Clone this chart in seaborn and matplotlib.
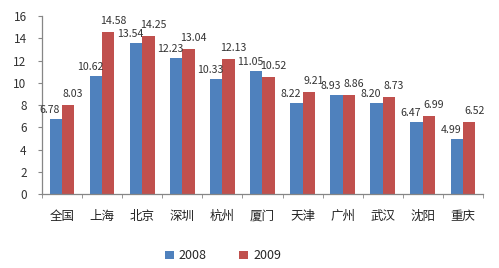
import matplotlib
matplotlib.use("Agg")
import matplotlib.pyplot as plt
import seaborn as sns
import pandas as pd
from matplotlib.ticker import FixedLocator

cities = ["全国", "上海", "北京", "深圳", "杭州", "厦门", "天津", "广州", "武汉", "沈阳", "重庆"]
v2008 = [6.78, 10.62, 13.54, 12.23, 10.33, 11.05, 8.22, 8.93, 8.20, 6.47, 4.99]
v2009 = [8.03, 14.58, 14.25, 13.04, 12.13, 10.52, 9.21, 8.86, 8.73, 6.99, 6.52]
years = ["2008", "2009"]
colors = ["#4F81BD", "#C0504D"]

df = pd.DataFrame({
    "city": cities * 2,
    "year": [years[0]] * len(cities) + [years[1]] * len(cities),
    "value": v2008 + v2009,
})

sns.set_style("white")
plt.rcParams["font.family"] = ["Noto Sans CJK SC", "DejaVu Sans"]

fig = plt.figure(figsize=(4.99, 2.68), dpi=100)
ax = fig.add_axes([0.084, 0.276, 0.884, 0.664])

sns.barplot(data=df, x="city", y="value", hue="year", palette=colors,
            width=0.62, ax=ax, legend=True, saturation=1, linewidth=0)

ax.set_ylim(0, 16)
ax.set_xlim(-0.5, len(cities) - 0.5)
ax.set_yticks(range(0, 17, 2))
ax.set_xlabel("")
ax.set_ylabel("")

gray = "#868686"
for s in ["top", "right"]:
    ax.spines[s].set_visible(False)
for s in ["left", "bottom"]:
    ax.spines[s].set_color(gray)
    ax.spines[s].set_linewidth(0.9)

ax.tick_params(axis="y", which="major", left=True, length=3, color=gray,
               labelsize=8.5, labelcolor="#333333", pad=8)
ax.tick_params(axis="x", which="major", bottom=False, labelsize=9,
               labelcolor="#222222", pad=8)
ax.xaxis.set_minor_locator(FixedLocator([i - 0.5 for i in range(len(cities) + 1)]))
ax.tick_params(axis="x", which="minor", bottom=True, length=3, color=gray)

offsets = [(-6, 9), (5, 11)]
for cont, (dx, dy) in zip(ax.containers, offsets):
    for bar in cont:
        h = bar.get_height()
        ax.annotate(f"{h:.2f}", (bar.get_x() + bar.get_width() / 2, h),
                    xytext=(dx, dy), textcoords="offset pixels",
                    ha="center", va="center", fontsize=7.6, color="#333333")

handles, labels = ax.get_legend_handles_labels()
ax.legend_.remove()
fig.legend(handles, labels, loc="center", bbox_to_anchor=(0.447, 0.045),
           ncol=2, frameon=False, fontsize=9, handlelength=0.7,
           handleheight=0.7, handletextpad=0.4, columnspacing=2.6)

fig.savefig("out.png", dpi=100)
